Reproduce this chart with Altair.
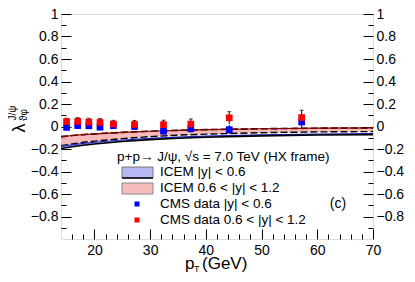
import altair as alt
import pandas as pd

FONT = "Liberation Sans"

# ICEM bands
pt_band = [14, 16, 18, 20, 25, 30, 35, 40, 50, 60, 70]
red_hi = [-0.09, -0.08, -0.072, -0.066, -0.052, -0.042, -0.034, -0.028, -0.02, -0.015, -0.012]
red_lo = [-0.17, -0.155, -0.14, -0.13, -0.108, -0.09, -0.077, -0.068, -0.055, -0.048, -0.045]
blue_hi = [-0.175, -0.162, -0.15, -0.14, -0.12, -0.105, -0.094, -0.085, -0.074, -0.067, -0.062]
blue_lo = [-0.195, -0.18, -0.167, -0.156, -0.134, -0.117, -0.105, -0.095, -0.083, -0.076, -0.072]

# CMS data
pt_data = [15.0, 17.0, 19.0, 21.0, 23.4, 27.2, 32.4, 37.3, 44.2, 57.2]
blue_val = [-0.008, 0.008, 0.006, -0.006, 0.008, 0.0, -0.042, -0.02, -0.028, 0.04]
blue_err = [0.025, 0.025, 0.025, 0.028, 0.028, 0.03, 0.03, 0.035, 0.04, 0.05]
red_val = [0.044, 0.046, 0.04, 0.036, 0.022, 0.018, 0.016, 0.022, 0.077, 0.08]
red_err = [0.03, 0.033, 0.033, 0.036, 0.033, 0.036, 0.04, 0.045, 0.055, 0.065]

x_major = [20, 30, 40, 50, 60, 70]
x_minor = [16, 18, 22, 24, 26, 28, 32, 34, 36, 38, 42, 44, 46, 48, 52, 54, 56, 58, 62, 64, 66, 68]
y_major = [-0.8, -0.6, -0.4, -0.2, 0.0, 0.2, 0.4, 0.6, 0.8, 1.0]
y_minor = [-0.9, -0.7, -0.5, -0.3, -0.1, 0.1, 0.3, 0.5, 0.7, 0.9]

legend_header = "p+p\u2192 J/\u03c8, \u221as = 7.0 TeV (HX frame)"
legend_labels = ["ICEM |y| < 0.6", "ICEM 0.6 < |y| < 1.2", "CMS data |y| < 0.6", "CMS data 0.6 < |y| < 1.2"]

band = pd.DataFrame({"pt": pt_band, "rhi": red_hi, "rlo": red_lo, "bhi": blue_hi, "blo": blue_lo})
pts = pd.DataFrame({"pt": pt_data, "b": blue_val, "be": blue_err, "r": red_val, "re": red_err})
pts["b1"] = pts["b"] - pts["be"]
pts["b2"] = pts["b"] + pts["be"]
pts["r1"] = pts["r"] - pts["re"]
pts["r2"] = pts["r"] + pts["re"]

xs = alt.Scale(domain=[14, 70], nice=False, zero=False)
ys = alt.Scale(domain=[-1, 1], nice=False, zero=False)

LBL = "replace(format(datum.value, '.1~f'), '-', '\u2212')"


def yaxis(orient, values, size, labels):
    kw = dict(orient=orient, values=values, tickSize=size, offset=-size, labels=labels,
              domain=False, grid=False, title=None, tickColor="black", tickWidth=1,
              labelFlush=False, labelOverlap=False)
    if labels:
        kw.update(labelFont=FONT, labelFontSize=14, labelColor="black", labelPadding=3, labelExpr=LBL)
    return alt.Axis(**kw)


def xaxis(values, size, labels):
    kw = dict(orient="bottom", values=values, tickSize=size, offset=-size, labels=labels,
              domain=False, grid=False, title=None, tickColor="black", tickWidth=1,
              labelFlush=False, labelOverlap=False)
    if labels:
        kw.update(labelFont=FONT, labelFontSize=14, labelColor="black", labelPadding=4, format="d")
    return alt.Axis(**kw)


base = alt.Chart(band)

red_area = base.mark_area(color="#f4aeae", opacity=0.85).encode(
    x=alt.X("pt:Q", scale=xs, axis=xaxis(x_major, 10, True)),
    y=alt.Y("rlo:Q", scale=ys, axis=yaxis("left", y_major, 10, True)),
    y2="rhi:Q",
)
blue_area = base.mark_area(color="#8f8fef", opacity=0.85).encode(
    x=alt.X("pt:Q", scale=xs, axis=xaxis(x_minor, 5, False)),
    y=alt.Y("blo:Q", scale=ys, axis=yaxis("left", y_minor, 5, False)),
    y2="bhi:Q",
)
red_hi_line = base.mark_line(color="black", strokeDash=[7, 3], strokeWidth=1.6).encode(
    x=alt.X("pt:Q", scale=xs, axis=None),
    y=alt.Y("rhi:Q", scale=ys, axis=yaxis("right", y_major, 10, True)),
)
red_hi_line2 = base.mark_line(color="#8b0000", strokeWidth=1.2).encode(
    x=alt.X("pt:Q", scale=xs, axis=None),
    y=alt.Y("rhi:Q", scale=ys, axis=yaxis("right", y_minor, 5, False)),
)
red_lo_line = base.mark_line(color="black", strokeDash=[7, 3], strokeWidth=1.4).encode(
    x=alt.X("pt:Q", scale=xs, axis=None),
    y=alt.Y("rlo:Q", scale=ys, axis=None),
)
blue_hi_line = base.mark_line(color="#2020c0", strokeWidth=1.2).encode(
    x=alt.X("pt:Q", scale=xs, axis=None),
    y=alt.Y("bhi:Q", scale=ys, axis=None),
)
blue_lo_line = base.mark_line(color="black", strokeWidth=1.6).encode(
    x=alt.X("pt:Q", scale=xs, axis=None),
    y=alt.Y("blo:Q", scale=ys, axis=None),
)

pb = alt.Chart(pts)
err_b = pb.mark_rule(color="black", strokeWidth=1).encode(
    x=alt.X("pt:Q", scale=xs, axis=None), y=alt.Y("b1:Q", scale=ys, axis=None), y2="b2:Q")
err_r = pb.mark_rule(color="black", strokeWidth=1).encode(
    x=alt.X("pt:Q", scale=xs, axis=None), y=alt.Y("r1:Q", scale=ys, axis=None), y2="r2:Q")
cap_r = pb.mark_tick(color="black", size=4, thickness=1, orient="horizontal").encode(
    x=alt.X("pt:Q", scale=xs, axis=None), y=alt.Y("r2:Q", scale=ys, axis=None))
pt_b = pb.mark_square(color="#0000ff", size=45, opacity=1).encode(
    x=alt.X("pt:Q", scale=xs, axis=None), y=alt.Y("b:Q", scale=ys, axis=None))
pt_r = pb.mark_square(color="#ff0000", size=45, opacity=1).encode(
    x=alt.X("pt:Q", scale=xs, axis=None), y=alt.Y("r:Q", scale=ys, axis=None))

one = pd.DataFrame({"a": [0]})


def text(t, x, y, size=12, align="left", angle=0):
    kw = dict(font=FONT, fontSize=size, align=align, baseline="middle", color="black")
    if angle:
        kw["angle"] = angle
    return alt.Chart(pd.DataFrame({"t": [t]})).mark_text(**kw).encode(
        x=alt.value(x), y=alt.value(y), text="t:N")


LF = 13.5
deco = [
    text(legend_header, 56, 143, LF),
    text(legend_labels[0], 99, 158, LF),
    text(legend_labels[1], 99, 174, LF),
    text(legend_labels[2], 99, 190, LF),
    text(legend_labels[3], 99, 206, LF),
    text("(c)", 277, 190, 14, align="center"),
    alt.Chart(one).mark_rect(fill="#b8b8f4", stroke="#777777", strokeWidth=1).encode(
        x=alt.value(61), x2=alt.value(92), y=alt.value(153), y2=alt.value(164)),
    alt.Chart(one).mark_rule(color="black", strokeWidth=1.5).encode(
        x=alt.value(61), x2=alt.value(92), y=alt.value(164)),
    alt.Chart(one).mark_rect(fill="#f6bcbc", stroke="#888888", strokeWidth=1).encode(
        x=alt.value(61), x2=alt.value(92), y=alt.value(169), y2=alt.value(180)),
    alt.Chart(one).mark_square(color="#0000ff", size=25, opacity=1).encode(
        x=alt.value(76), y=alt.value(190)),
    alt.Chart(one).mark_square(color="#ff0000", size=25, opacity=1).encode(
        x=alt.value(76), y=alt.value(206)),
    # y title
    text("\u03bb", -41, 114, 18, align="center", angle=270),
    text("J/\u03c8", -48, 99, 10, align="center", angle=270),
    text("\u03d1\u03c6", -37, 101, 10, align="center", angle=270),
    # x title
    text("p", 124, 250, 17),
    text("T", 133, 255, 9),
    text("(GeV)", 141, 250, 17),
]

chart = alt.layer(
    red_area, blue_area, red_hi_line, red_hi_line2, red_lo_line, blue_hi_line, blue_lo_line,
    err_b, err_r, cap_r, pt_b, pt_r, *deco
).resolve_axis(x="independent", y="independent").properties(
    width=312, height=225,
    autosize=alt.AutoSizeParams(type="none"),
    padding={"left": 53, "top": 6, "right": 34, "bottom": 35},
).configure_view(stroke="black", strokeWidth=1).configure(background="white")

chart.save("out.html", embed_options={"renderer": "svg", "actions": False})
